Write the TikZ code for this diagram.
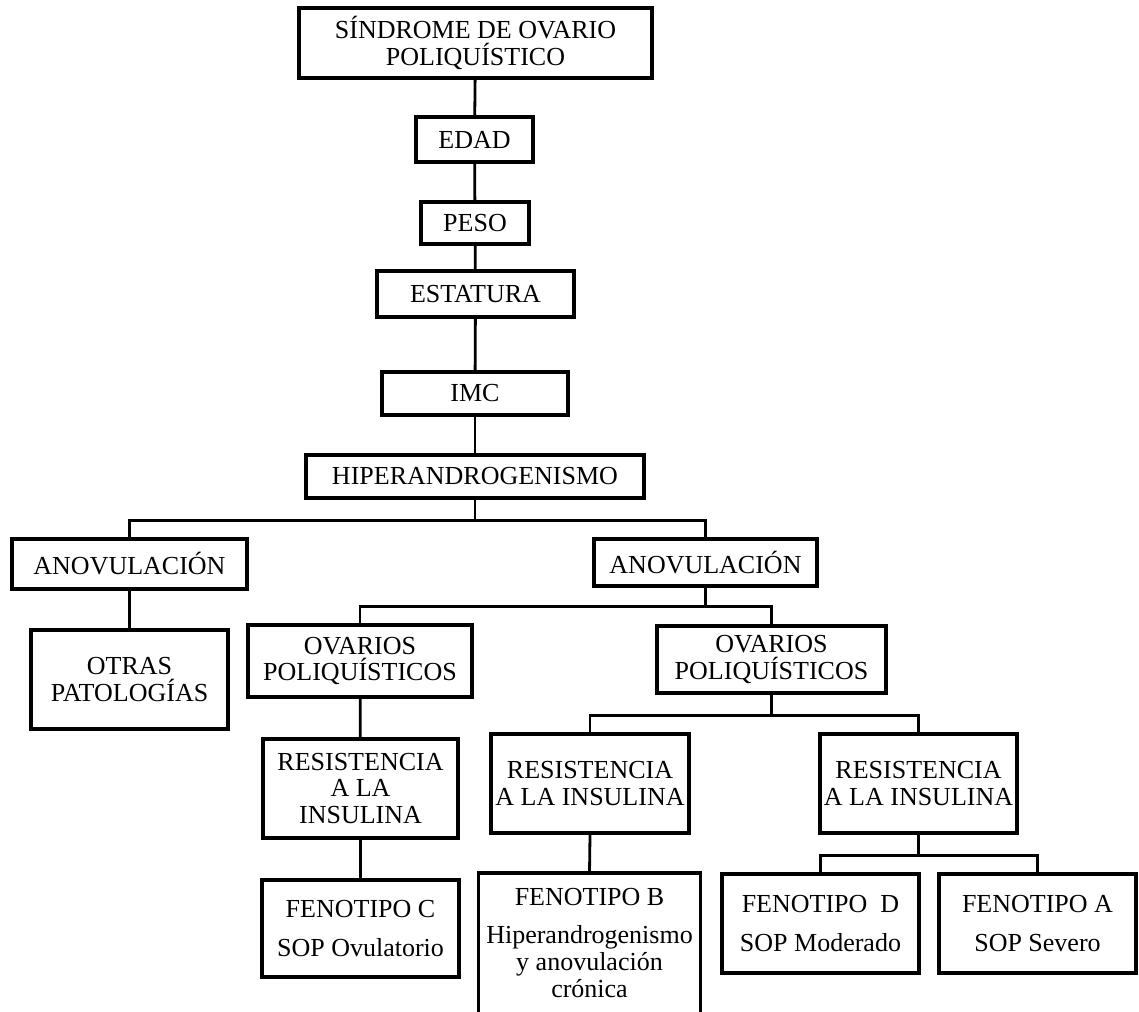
\documentclass[tikz,border=0pt]{standalone}
\usepackage{fontspec}
\setmainfont{Liberation Serif}
\begin{document}
\begin{tikzpicture}[x=1pt,y=-1pt,
  every node/.style={font=\fontsize{26}{26.7}\selectfont, align=center, inner sep=0pt},
  box/.style={draw, line width=3.1pt},
  conn/.style={line width=2.8pt}]
\useasboundingbox (0,0) rectangle (1139,1011);
% main chain
\node[box, minimum width=353pt, minimum height=70pt] (sop) at (475.5,43) {SÍNDROME DE OVARIO\\POLIQUÍSTICO};
\node[box, minimum width=117pt, minimum height=45pt] (edad) at (474.5,139.5) {EDAD};
\node[box, minimum width=108pt, minimum height=42pt] (peso) at (475,223) {PESO};
\node[box, minimum width=197pt, minimum height=46pt] (est) at (475.5,294) {ESTATURA};
\node[box, minimum width=186pt, minimum height=43pt] (imc) at (475,393.5) {IMC};
\node[box, minimum width=338pt, minimum height=43pt] (hiper) at (475,476.5) {HIPERANDROGENISMO};
% second level
\node[box, minimum width=235pt, minimum height=50pt] (anovL) at (129.5,564) {ANOVULACIÓN};
\node[box, minimum width=197pt, minimum height=99pt] (otras) at (129.5,679.5) {OTRAS\\PATOLOGÍAS};
\node[box, minimum width=223pt, minimum height=47pt] (anovR) at (705.5,562.5) {ANOVULACIÓN};
% third level
\node[box, minimum width=224pt, minimum height=72pt] (ovL) at (360,661) {OVARIOS\\POLIQUÍSTICOS};
\node[box, minimum width=229pt, minimum height=67pt] (ovR) at (771.5,659.5) {OVARIOS\\POLIQUÍSTICOS};
% fourth level
\node[box, minimum width=195pt, minimum height=99pt] (resL) at (360.5,788.5) {RESISTENCIA\\A LA\\INSULINA};
\node[box, minimum width=198pt, minimum height=99pt] (resM) at (590,783.5) {RESISTENCIA\\A LA INSULINA};
\node[box, minimum width=197pt, minimum height=99pt] (resR) at (918.5,783.5) {RESISTENCIA\\A LA INSULINA};
% fifth level
\node[box, minimum width=197pt, minimum height=97pt] (fenC) at (360.5,928.5) {FENOTIPO C\\[12pt]SOP Ovulatorio};
\node[minimum width=221pt, minimum height=140pt, anchor=north, font=\fontsize{26}{27}\selectfont] (fenB) at (589.5,873) {FENOTIPO B\\[11pt]Hiperandrogenismo\\y anovulación\\crónica};
\draw[line width=3.1pt] (fenB.south west) -- (fenB.north west) -- (fenB.north east) -- (fenB.south east);
\node[box, minimum width=197pt, minimum height=99pt] (fenD) at (820.5,923.5) {FENOTIPO\ \ D\\[12pt]SOP Moderado};
\node[box, minimum width=197pt, minimum height=99pt] (fenA) at (1037.5,923.5) {FENOTIPO A\\[12pt]SOP Severo};
% connectors
\draw[conn] (sop) -- (edad);
\draw[conn] (edad) -- (peso);
\draw[conn] (peso) -- (est);
\draw[conn] (est) -- (imc);
\draw[conn] (imc) -- (hiper);
\draw[conn] (hiper.south) -- ++(0,21) coordinate (j1);
\draw[conn] (anovL.north) |- (j1) -| (anovR.north);
\draw[conn] (anovL) -- (otras);
\draw[conn] (anovR.south) -- ++(0,19) coordinate (j2);
\draw[conn] (ovL.north) |- (j2) -| (ovR.north);
\draw[conn] (ovL) -- (resL);
\draw[conn] (resL) -- (fenC);
\draw[conn] (ovR.south) -- ++(0,21) coordinate (j3);
\draw[conn] (resM.north) |- (j3) -| (resR.north);
\draw[conn] (resM.south) -- (fenB.north);
\draw[conn] (resR.south) -- ++(0,21) coordinate (j4);
\draw[conn] (fenD.north) |- (j4) -| (fenA.north);
\end{tikzpicture}
\end{document}
